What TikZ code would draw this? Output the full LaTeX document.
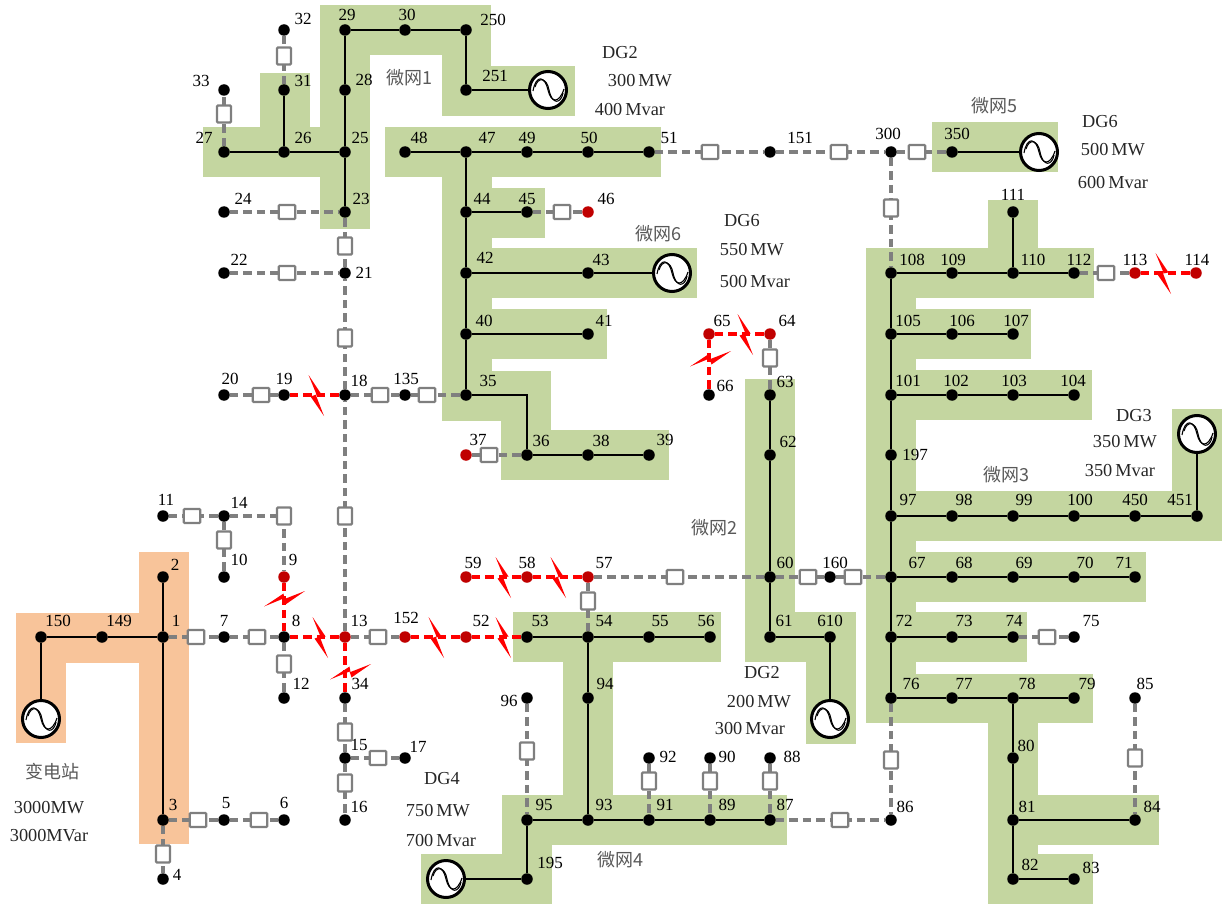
\documentclass[tikz,border=0pt]{standalone}
\usepackage{fontspec}
\setmainfont{Liberation Serif}
\newfontfamily\cjk{Noto Sans CJK SC}
\definecolor{gz}{HTML}{C4D6A0}
\definecolor{oz}{HTML}{F8C49A}
\definecolor{rbus}{HTML}{C00000}
\definecolor{swg}{HTML}{7F7F7F}
\tikzset{
  busn/.style={circle,fill=black,inner sep=0pt,minimum size=11.5pt},
  redbus/.style={circle,fill=rbus,inner sep=0pt,minimum size=11.5pt},
  numl/.style={inner sep=0pt,font=\fontsize{17}{17}\selectfont},
  txtl/.style={inner sep=0pt,font=\fontsize{18.3}{19}\selectfont,text=black!85},
  cjkl/.style={inner sep=0pt,font=\fontsize{18}{19}\selectfont\cjk,text=black!65},
  swh/.style={draw=swg,fill=white,line width=2.2pt,rounded corners=1pt,inner sep=0pt,minimum width=16.5pt,minimum height=14pt},
  swv/.style={draw=swg,fill=white,line width=2.2pt,rounded corners=1pt,inner sep=0pt,minimum width=14pt,minimum height=17pt},
  pw/.style={line width=2.4pt,black},
  gl/.style={line width=3.3pt,swg,dash pattern=on 8.5pt off 5pt},
  rl/.style={line width=3.4pt,red,dash pattern=on 8.5pt off 5pt},
  gen/.style={circle,draw=black,fill=white,line width=3pt,inner sep=0pt,minimum size=37pt},
}
\begin{document}
\begin{tikzpicture}[x=1pt,y=-1pt]
\useasboundingbox (0,0) rectangle (1223,904);
% zones
\foreach \a/\b/\c/\d in {
 320/5/370/229, 320/5/489/55, 442/5/491/116, 442/66/575/116, 203/127/370/177, 260/73/310/127,
 385/127/661/177, 442/127/492/421, 492/188/545/238, 492/248/697/298, 492/309/607/359, 442/371/551/421,
 501/371/551/480, 501/430/669/480,
 745/379/795/662, 795/612/856/662, 806/612/856/744,
 513/612/721/662, 563/612/613/845, 502/795/787/845, 502/795/552/904, 421/854/552/904,
 932/122/1058/172,
 866/248/916/723, 866/248/1094/298, 988/200/1038/298, 916/309/1031/359, 916/370/1092/420,
 916/491/1222/541, 1172/409/1222/541, 916/552/1146/602, 916/612/1027/662, 916/674/1093/723,
 988/674/1038/904, 1038/795/1159/845, 1038/854/1093/904}
 {\fill[gz] (\a,\b) rectangle (\c,\d);}
\foreach \a/\b/\c/\d in {139/552/189/844, 16/613/189/663, 16/613/66/743}
 {\fill[oz] (\a,\b) rectangle (\c,\d);}
% black buses
\foreach \n/\x/\y/\lx/\ly in {
150/41/637/58/621,149/102/637/119/621,1/163/637/176/621,2/163/577/175/565,3/163/820/173/805,4/163/879/177/875,
5/224/820/226/803,6/284/820/284/803,7/224/637/224/621,8/284/637/296/621,10/224/577/239/560,11/163/516/166/500,
14/224/516/239/503,12/284/698/301/684,34/345/698/360/684,15/345/758/359/745,16/345/820/359/807,17/405/758/418/747,
53/527/637/540/621,54/588/637/604/621,55/649/637/660/621,56/710/637/706/621,60/770/577/785/563,160/830/577/835/563,
61/770/637/784/621,610/830/637/830/621,96/527/698/509/701,94/588/698/605/684,93/588/820/604/805,95/527/820/544/805,
195/527/879/550/863,91/649/820/665/805,92/649/758/668/757,89/710/820/727/805,90/710/758/727/757,87/770/820/785/805,
88/770/758/792/757,86/891/820/905/807,63/770/395/785/382,62/770/455/788/442,66/709/395/725/386,
108/891/273/912/260,109/952/273/953/260,110/1013/273/1033/260,112/1074/273/1079/260,111/1013/212/1013/195,
105/891/334/908/321,106/952/334/962/321,107/1013/334/1016/321,101/891/395/908/381,102/952/395/956/381,
103/1013/395/1014/381,104/1074/395/1073/381,197/891/455/915/455,97/891/516/908/500,98/952/516/964/500,
99/1013/516/1024/500,100/1074/516/1080/500,450/1135/516/1135/500,451/1197/516/1180/500,67/891/577/917/563,
68/952/577/964/563,69/1013/577/1024/563,70/1074/577/1085/563,71/1135/577/1124/563,72/891/637/904/621,
73/952/637/964/621,74/1013/637/1014/621,75/1074/637/1091/621,76/891/698/911/684,77/952/698/964/684,
78/1013/698/1027/684,79/1074/698/1087/684,80/1013/758/1026/746,81/1013/820/1027/807,82/1013/879/1030/865,
83/1074/879/1091/868,84/1135/820/1152/807,85/1135/698/1145/684,300/891/152/888/134,350/952/152/957/134,
151/770/152/800/138,51/649/152/669/138,50/588/152/589/138,49/527/152/527/138,47/466/152/487/138,48/405/152/419/138,
44/466/212/482/199,45/527/212/527/199,42/466/273/485/258,43/588/273/601/260,40/466/334/484/321,41/588/334/604/321,
35/466/395/488/381,36/527/455/541/441,38/588/455/601/441,39/649/455/665/440,18/345/395/359/381,135/405/395/406/379,
19/284/395/284/379,20/224/395/230/379,21/345/273/364/273,22/224/273/239/260,23/345/212/361/199,24/224/212/243/199,
25/345/152/360/138,26/284/152/303/138,27/224/152/204/138,28/345/90/364/80,29/345/30/347/15,30/405/30/407/15,
250/466/30/493/20,251/466/90/495/76,31/284/90/303/81,32/284/30/303/19,33/224/90/201/81}
 {\node[busn] (b\n) at (\x,\y) {}; \node[numl] (l\n) at (\lx,\ly) {\n};}
% red buses
\foreach \n/\x/\y/\lx/\ly in {
9/284/577/293/560,13/345/637/359/621,152/405/637/406/618,52/466/637/481/621,57/588/577/604/563,58/527/577/527/563,
59/466/577/473/563,64/770/334/787/321,65/709/334/722/321,113/1135/273/1135/260,114/1196/273/1197/260,
46/588/212/606/199,37/466/455/478/440}
 {\node[redbus] (b\n) at (\x,\y) {}; \node[numl] (l\n) at (\lx,\ly) {\n};}
% generators
\foreach \n/\x/\y in {1/41/719,2/548/90,3/1039/152,4/672/273,5/1197/434,6/830/719,7/446/879}{
 \node[gen] (g\n) at (\x,\y) {};
 \begin{scope}[shift={(\x,\y)},line width=1.1pt]
 \draw (-15,1) .. controls (-12,-16) and (-3,-14) .. (0,0) .. controls (3,13) and (11,14) .. (16,-1);
 \draw (-13,-3) .. controls (-10,-14) and (-1,-12) .. (1,0) .. controls (4,15) and (13,14) .. (15,3);
 \end{scope}
}
\coordinate (c35) at (527,395);
% solid lines
\draw[pw] (g1)--(b150)--(b149)--(b1) (b2)--(b1)--(b3);
\draw[pw] (b23)--(b25)--(b28)--(b29)--(b30)--(b250)--(b251)--(g2);
\draw[pw] (b27)--(b26)--(b25) (b26)--(b31);
\draw[pw] (b48)--(b47)--(b49)--(b50)--(b51) (b47)--(b44)--(b42)--(b40)--(b35)--(c35)--(b36)--(b38)--(b39);
\draw[pw] (b44)--(b45) (b42)--(b43)--(g4) (b40)--(b41);
\draw[pw] (b63)--(b62)--(b60)--(b61)--(b610)--(g6);
\draw[pw] (b53)--(b54)--(b55)--(b56) (b54)--(b94)--(b93);
\draw[pw] (b95)--(b93)--(b91)--(b89)--(b87) (b95)--(b195)--(g7);
\draw[pw] (b350)--(g3);
\draw[pw] (b108)--(b105)--(b101)--(b197)--(b97)--(b67)--(b72)--(b76);
\draw[pw] (b108)--(b109)--(b110)--(b112) (b110)--(b111);
\draw[pw] (b105)--(b106)--(b107) (b101)--(b102)--(b103)--(b104);
\draw[pw] (b97)--(b98)--(b99)--(b100)--(b450)--(b451)--(g5);
\draw[pw] (b67)--(b68)--(b69)--(b70)--(b71) (b72)--(b73)--(b74);
\draw[pw] (b76)--(b77)--(b78)--(b79) (b78)--(b80)--(b81)--(b82)--(b83) (b81)--(b84);
% switched lines: the line is laid first, then its box on top
\newcommand{\swline}[6]{\draw[gl] (#1)--(#5,#6)--(#2); \node[#3] (#4) at (#5,#6) {};}
\swline{b1}{b7}{swh}{sa}{196}{637}
\swline{b7}{b8}{swh}{sb}{257}{637}
\swline{b3}{b5}{swh}{sc}{198}{820}
\swline{b5}{b6}{swh}{sd}{259}{820}
\swline{b3}{b4}{swv}{va}{163}{854}
\swline{b11}{b14}{swh}{se}{192}{516}
\swline{b14}{b10}{swv}{vb}{224}{540}
\swline{b14}{b9}{swv}{vc}{284}{516}
\swline{b8}{b12}{swv}{vd}{284}{664}
\swline{b13}{b152}{swh}{sh}{378}{637}
\swline{b34}{b15}{swv}{ve}{345}{732}
\swline{b15}{b16}{swv}{vf}{345}{783}
\swline{b15}{b17}{swh}{si}{378}{758}
\swline{b13}{b18}{swv}{vg}{345}{516}
\swline{b18}{b21}{swv}{vh}{345}{338}
\swline{b21}{b23}{swv}{vi}{345}{246}
\swline{b22}{b21}{swh}{sj}{287}{273}
\swline{b24}{b23}{swh}{sk}{287}{212}
\swline{b20}{b19}{swh}{sl}{261}{395}
\swline{b18}{b135}{swh}{sm}{380}{395}
\swline{b135}{b35}{swh}{sn}{427}{395}
\swline{b37}{b36}{swh}{so}{489}{455}
\swline{b45}{b46}{swh}{sp}{562}{212}
\swline{b27}{b33}{swv}{vj}{224}{114}
\swline{b31}{b32}{swv}{vk}{284}{56}
\swline{b51}{b151}{swh}{sq}{710}{152}
\swline{b151}{b300}{swh}{sr}{839}{152}
\swline{b300}{b350}{swh}{ss}{917}{152}
\swline{b300}{b108}{swv}{vl}{891}{208}
\swline{b64}{b63}{swv}{vm}{770}{358}
\swline{b112}{b113}{swh}{st}{1106}{273}
\swline{b57}{b60}{swh}{su}{675}{577}
\swline{b60}{b160}{swh}{sv}{808}{577}
\swline{b160}{b67}{swh}{sw}{853}{577}
\swline{b54}{b57}{swv}{vn}{588}{601}
\swline{b74}{b75}{swh}{sx}{1047}{637}
\swline{b96}{b95}{swv}{vo}{527}{751}
\swline{b92}{b91}{swv}{vp}{649}{781}
\swline{b90}{b89}{swv}{vq}{710}{781}
\swline{b88}{b87}{swv}{vr}{770}{781}
\swline{b87}{b86}{swh}{sy}{840}{820}
\swline{b76}{b86}{swv}{vs}{891}{760}
\swline{b85}{b84}{swv}{vt}{1135}{758}
% faulted lines
\draw[rl] (b9)--(b8) (b8)--(b13) (b13)--(b34) (b152)--(b52)--(b53) (b59)--(b58)--(b57) (b65)--(b64) (b65)--(b66) (b113)--(b114) (b19)--(b18);
% fault marks
\foreach \x/\y/\a in {284/599/0,320/637/-90,350/672/0,436/637/-90,503/637/-90,503/577/-90,558/577/-90,745/334/-90,710/359/0,1163/273/-90,316/395/-90}{
 \fill[red,shift={(\x,\y)},rotate=\a] (-20,7.5) -- (-0.5,-5.5) -- (0.5,0) -- (21,-8) -- (1.5,5.5) -- (-0.5,-0.5) -- cycle;
}
% texts
\node[txtl] (t1) at (620,53) {DG2};
\node[txtl] (t2) at (640,81) {300\,MW};
\node[txtl] (t3) at (630,110) {400\,Mvar};
\node[txtl] (t4) at (1100,122) {DG6};
\node[txtl] (t5) at (1113,150) {500\,MW};
\node[txtl] (t6) at (1113,183) {600\,Mvar};
\node[txtl] (t7) at (742,221) {DG6};
\node[txtl] (t8) at (752,250) {550\,MW};
\node[txtl] (t9) at (755,282) {500\,Mvar};
\node[txtl] (t10) at (1134,416) {DG3};
\node[txtl] (t11) at (1125,442) {350\,MW};
\node[txtl] (t12) at (1120,471) {350\,Mvar};
\node[txtl] (t13) at (762,673) {DG2};
\node[txtl] (t14) at (759,702) {200\,MW};
\node[txtl] (t15) at (750,728) {300\,Mvar};
\node[txtl] (t16) at (442,779) {DG4};
\node[txtl] (t17) at (438,811) {750\,MW};
\node[txtl] (t18) at (441,840) {700\,Mvar};
\node[txtl] (t19) at (49,808) {3000MW};
\node[txtl] (t20) at (49,836) {3000MVar};
\node[cjkl] (c1) at (409,78) {微网1};
\node[cjkl] (c2) at (994,106) {微网5};
\node[cjkl] (c3) at (658,234) {微网6};
\node[cjkl] (c4) at (1006,475) {微网3};
\node[cjkl] (c5) at (714,528) {微网2};
\node[cjkl] (c6) at (620,860) {微网4};
\node[cjkl] (c7) at (52,772) {变电站};
\end{tikzpicture}
\end{document}
